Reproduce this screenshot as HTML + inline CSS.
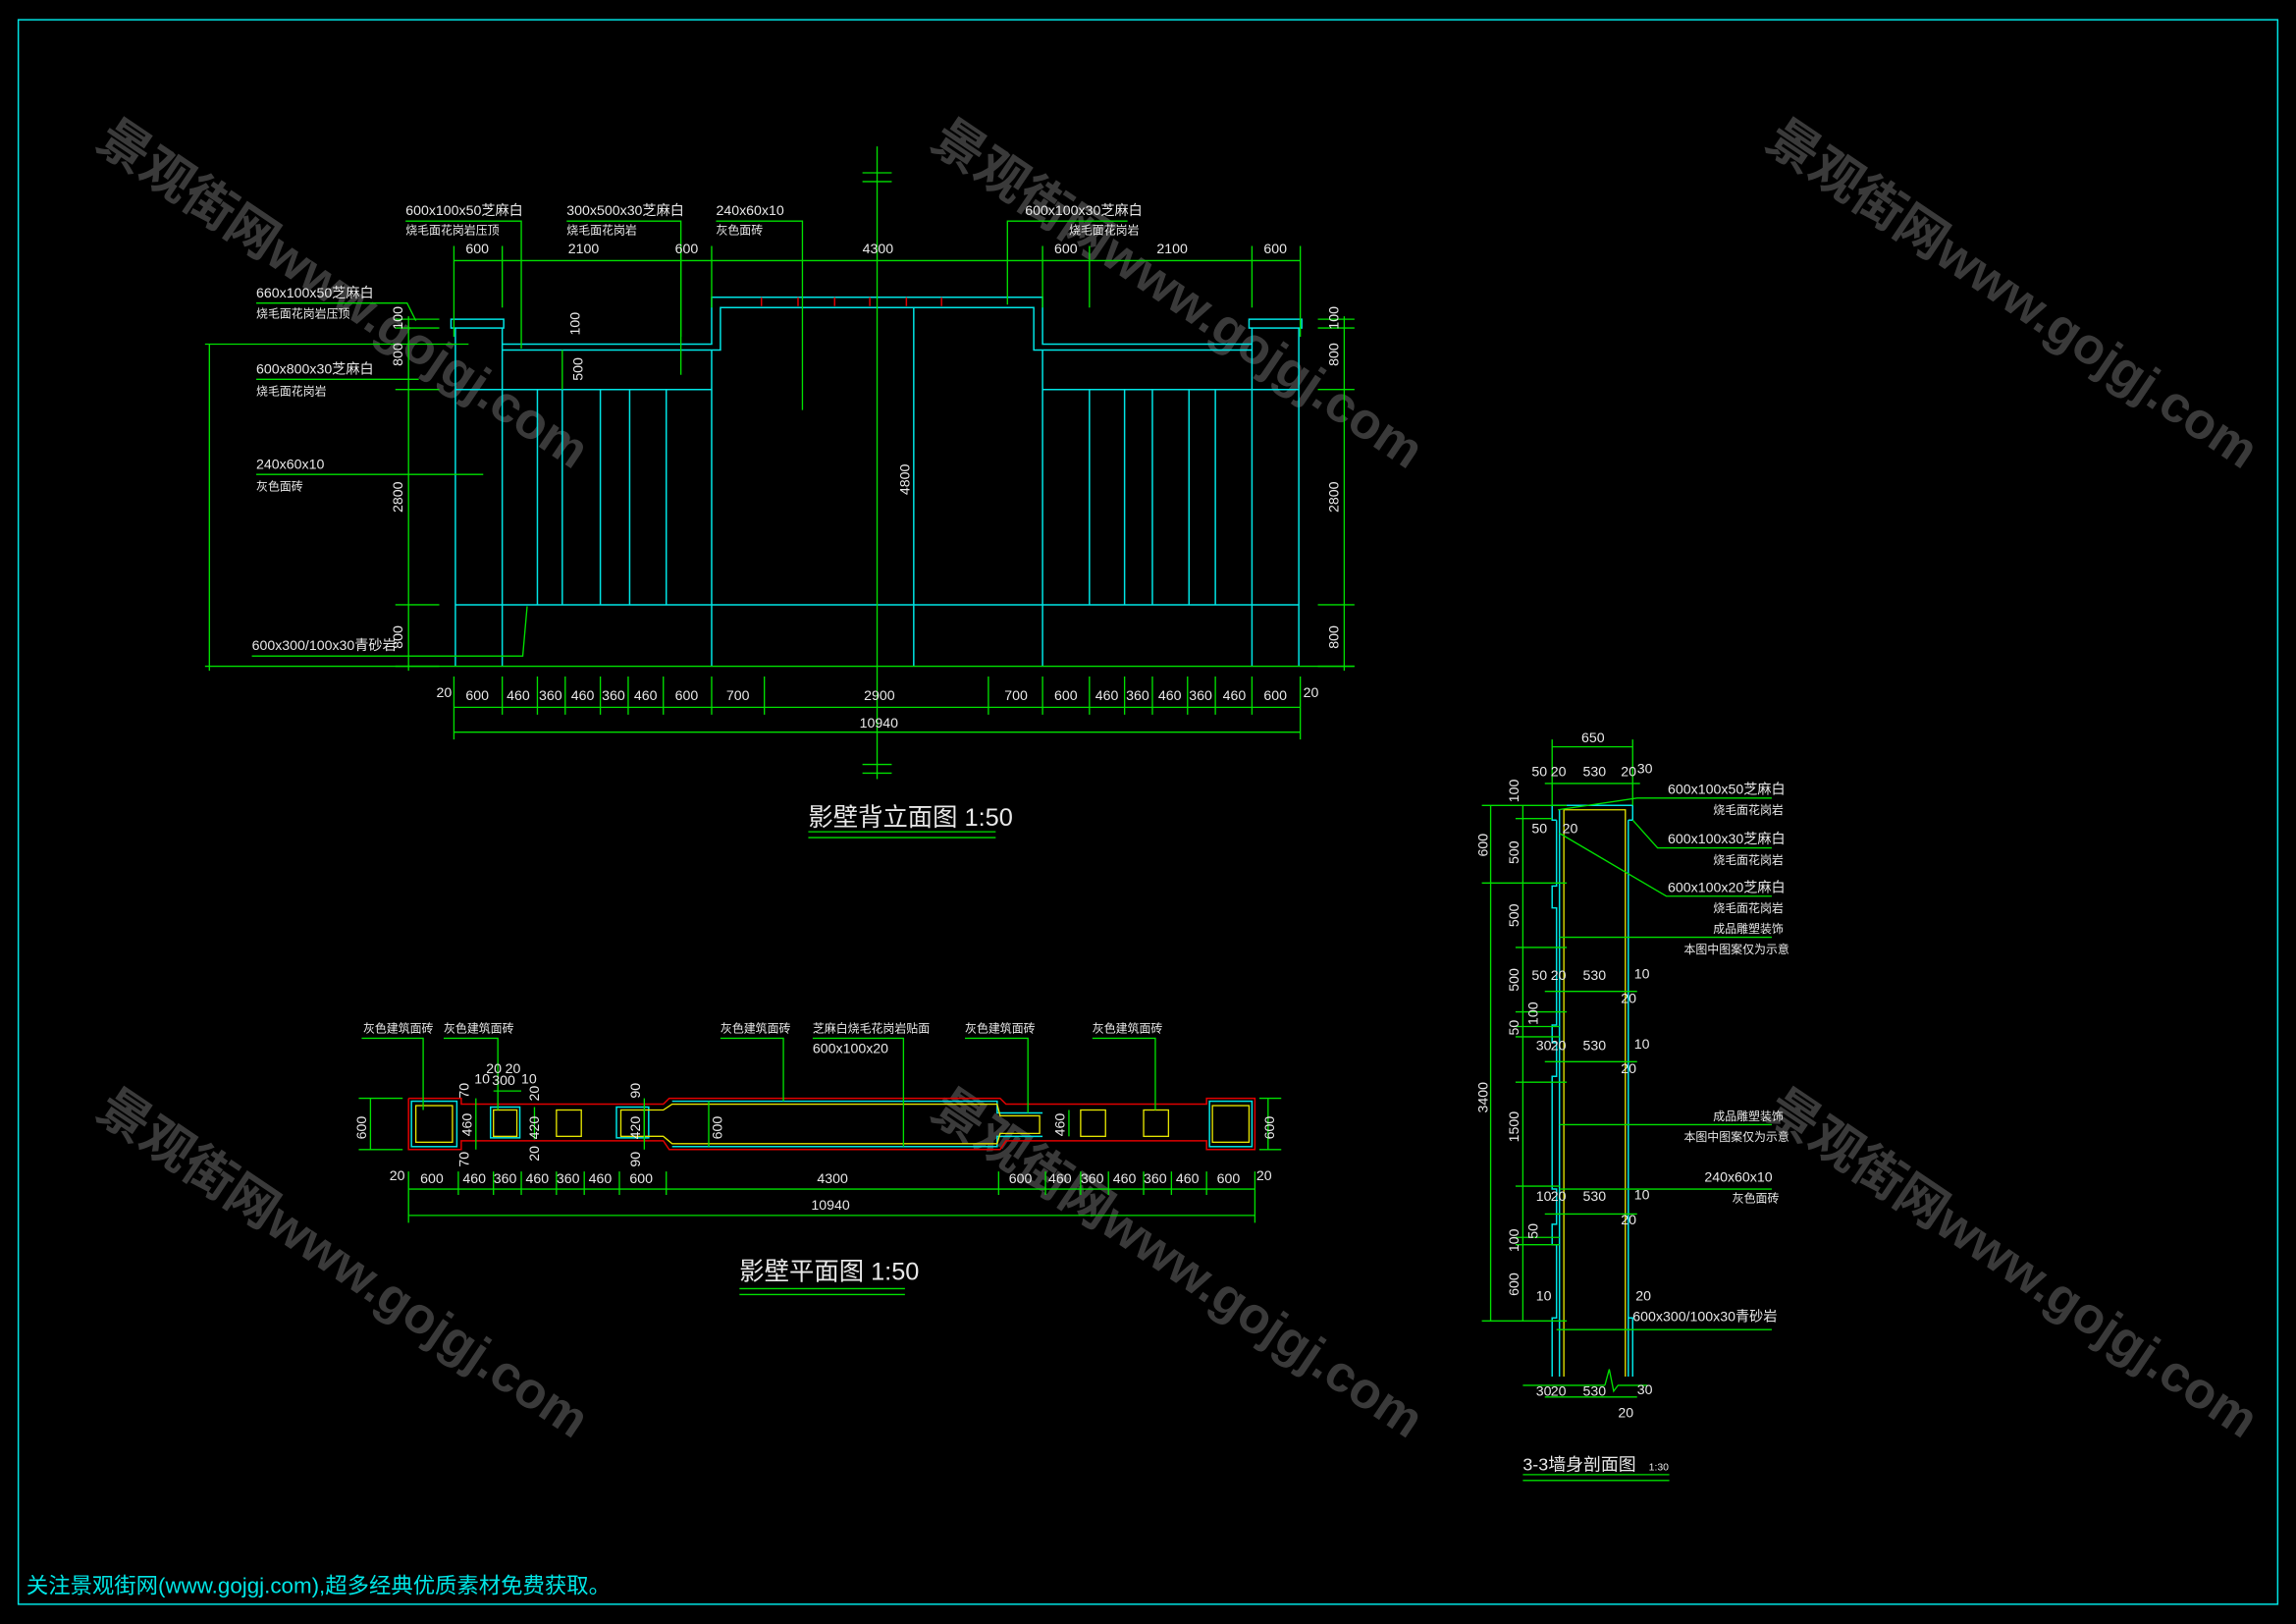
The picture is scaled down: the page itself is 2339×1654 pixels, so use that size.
<!DOCTYPE html>
<html><head><meta charset="utf-8"><style>
html,body{margin:0;padding:0;background:#000;}
svg{display:block;}
text{font-family:"Liberation Sans","Noto Sans CJK SC",sans-serif;}
.g{stroke:#00e000;stroke-width:0.9;fill:none;}
.c{stroke:#00e5e5;stroke-width:1;fill:none;}
.y{stroke:#e5e500;stroke-width:0.9;fill:none;}
.r{stroke:#e00000;stroke-width:1;fill:none;}
.t{fill:#e8e8e8;font-size:9.5px;}
.s{fill:#e8e8e8;font-size:8px;}
.wm{fill:#3a3a3a;font-size:35px;font-weight:bold;}
</style></head><body>
<svg width="2339" height="1654" viewBox="0 0 1568 1109" preserveAspectRatio="none" xmlns="http://www.w3.org/2000/svg">
<rect x="0" y="0" width="1568" height="1109" fill="#000"/>
<g>
<text class="wm" transform="translate(64,100) rotate(34)">景观街网www.gojgj.com</text>
<text class="wm" transform="translate(634,100) rotate(34)">景观街网www.gojgj.com</text>
<text class="wm" transform="translate(1204,100) rotate(34)">景观街网www.gojgj.com</text>
<text class="wm" transform="translate(64,762) rotate(34)">景观街网www.gojgj.com</text>
<text class="wm" transform="translate(634,762) rotate(34)">景观街网www.gojgj.com</text>
<text class="wm" transform="translate(1204,762) rotate(34)">景观街网www.gojgj.com</text>
</g>
<rect x="12.5" y="13.5" width="1543" height="1082" class="c"/>

<!-- ===== ELEVATION ===== -->
<g class="c">
<rect x="308" y="218" width="36" height="6"/>
<line x1="311" y1="224" x2="311" y2="455"/><line x1="343" y1="224" x2="343" y2="455"/>
<rect x="853" y="218" width="36" height="6"/>
<line x1="855" y1="224" x2="855" y2="455"/><line x1="887" y1="224" x2="887" y2="455"/>
<polyline points="343,235 486,235 486,203 712,203 712,235 855,235"/>
<polyline points="343,239 492,239 492,210 706,210 706,239 855,239"/>
<line x1="311" y1="266" x2="486" y2="266"/><line x1="712" y1="266" x2="887" y2="266"/>
<line x1="311" y1="413" x2="887" y2="413"/>
<line x1="486" y1="239" x2="486" y2="455"/><line x1="712" y1="239" x2="712" y2="455"/>
<line x1="624" y1="210" x2="624" y2="455"/>
<line x1="367" y1="266" x2="367" y2="413"/><line x1="384" y1="266" x2="384" y2="413"/>
<line x1="410" y1="266" x2="410" y2="413"/><line x1="430" y1="266" x2="430" y2="413"/>
<line x1="455" y1="266" x2="455" y2="413"/>
<line x1="744" y1="266" x2="744" y2="413"/><line x1="768" y1="266" x2="768" y2="413"/>
<line x1="787" y1="266" x2="787" y2="413"/><line x1="812" y1="266" x2="812" y2="413"/>
<line x1="830" y1="266" x2="830" y2="413"/>
</g>
<g class="r"><line x1="520" y1="203" x2="520" y2="209"/><line x1="545" y1="203" x2="545" y2="209"/><line x1="570" y1="203" x2="570" y2="209"/><line x1="594" y1="203" x2="594" y2="209"/><line x1="619" y1="203" x2="619" y2="209"/><line x1="643" y1="203" x2="643" y2="209"/></g>
<g class="g">
<line x1="599" y1="100" x2="599" y2="532"/>
<line x1="589" y1="118" x2="609" y2="118"/><line x1="589" y1="124" x2="609" y2="124"/>
<line x1="589" y1="522" x2="609" y2="522"/><line x1="589" y1="528" x2="609" y2="528"/>
<line x1="140" y1="455" x2="925" y2="455"/>
<line x1="143" y1="235" x2="143" y2="458"/><line x1="140" y1="235" x2="320" y2="235"/>
<line x1="310" y1="178" x2="888" y2="178"/>
<path d="M310 168V230M343 168V210M465 168V230M486 168V210M712 168V210M744 168V210M855 168V210M888 168V230"/>
<line x1="279" y1="216" x2="279" y2="458"/>
<path d="M270 218H300M270 224H300M270 266H300M270 413H300M270 455H300"/>
<line x1="918" y1="216" x2="918" y2="458"/>
<path d="M900 218H925M900 224H925M900 266H925M900 413H925M900 455H925"/>
<line x1="384" y1="239" x2="384" y2="266"/>
<line x1="310" y1="483" x2="888" y2="483"/>
<path d="M310 462V505M343 462V488M367 462V488M386 462V488M410 462V488M429 462V488M453 462V488M486 462V488M522 462V488M675 462V488M712 462V488M744 462V488M768 462V488M787 462V488M811 462V488M830 462V488M855 462V488M888 462V505"/>
<line x1="310" y1="500" x2="888" y2="500"/>
<polyline points="277,151 356,151 356,238"/>
<polyline points="387,151 465,151 465,256"/>
<polyline points="489,151 548,151 548,280"/>
<polyline points="770,151 688,151 688,208"/>
<polyline points="175,207 278,207 284,219"/>
<polyline points="175,259 286,259"/>
<polyline points="175,324 330,324"/>
<polyline points="172,448 357,448 360,414"/>
<line x1="552" y1="568" x2="680" y2="568"/><line x1="552" y1="572" x2="680" y2="572"/>
</g>
<g class="t">
<text x="318" y="173">600</text><text x="388" y="173">2100</text><text x="461" y="173">600</text>
<text x="589" y="173">4300</text><text x="720" y="173">600</text><text x="790" y="173">2100</text><text x="863" y="173">600</text>
<text x="298" y="476">20</text><text x="318" y="478">600</text><text x="346" y="478">460</text><text x="368" y="478">360</text>
<text x="390" y="478">460</text><text x="411" y="478">360</text><text x="433" y="478">460</text><text x="461" y="478">600</text>
<text x="496" y="478">700</text><text x="590" y="478">2900</text><text x="686" y="478">700</text><text x="720" y="478">600</text>
<text x="748" y="478">460</text><text x="769" y="478">360</text><text x="791" y="478">460</text><text x="812" y="478">360</text>
<text x="835" y="478">460</text><text x="863" y="478">600</text><text x="890" y="476">20</text>
<text x="587" y="497">10940</text>
<text transform="translate(275,225) rotate(-90)">100</text>
<text transform="translate(275,250) rotate(-90)">800</text>
<text transform="translate(275,350) rotate(-90)">2800</text>
<text transform="translate(275,443) rotate(-90)">800</text>
<text transform="translate(914,225) rotate(-90)">100</text>
<text transform="translate(914,250) rotate(-90)">800</text>
<text transform="translate(914,350) rotate(-90)">2800</text>
<text transform="translate(914,443) rotate(-90)">800</text>
<text transform="translate(396,229) rotate(-90)">100</text>
<text transform="translate(398,260) rotate(-90)">500</text>
<text transform="translate(621,338) rotate(-90)">4800</text>
<text x="277" y="147">600x100x50芝麻白</text><text x="387" y="147">300x500x30芝麻白</text>
<text x="489" y="147">240x60x10</text><text x="700" y="147">600x100x30芝麻白</text>
<text x="175" y="203">660x100x50芝麻白</text><text x="175" y="255">600x800x30芝麻白</text>
<text x="175" y="320">240x60x10</text><text x="172" y="444">600x300/100x30青砂岩</text>
</g>
<g class="s">
<text x="277" y="160">烧毛面花岗岩压顶</text><text x="387" y="160">烧毛面花岗岩</text><text x="489" y="160">灰色面砖</text>
<text x="730" y="160">烧毛面花岗岩</text><text x="175" y="217">烧毛面花岗岩压顶</text><text x="175" y="270">烧毛面花岗岩</text>
<text x="175" y="335">灰色面砖</text>
</g>
<text x="552" y="564" fill="#e8e8e8" font-size="17">影壁背立面图 1:50</text>

<!-- ===== PLAN ===== -->
<g class="r">
<polyline points="279,750 315,750 315,754 453,754 457,750 683,750 687,754 824,754 824,750 857,750 857,785 824,785 824,779 687,779 683,785 457,785 453,779 315,779 315,785 279,785 279,750"/>
</g>
<g class="c">
<rect x="281" y="752" width="31" height="31"/><rect x="826" y="752" width="29" height="31"/>
<rect x="335" y="756" width="20" height="21"/><rect x="421" y="756" width="22" height="21"/>
<polyline points="459,752 681,752 681,760 712,760"/>
<polyline points="459,783 681,783 681,776 712,776"/>
</g>
<g class="y">
<rect x="284" y="755" width="25" height="25"/><rect x="828" y="755" width="25" height="25"/>
<rect x="337" y="758" width="16" height="18"/><rect x="380" y="758" width="17" height="18"/>
<rect x="424" y="758" width="16" height="18"/>
<rect x="738" y="758" width="17" height="18"/><rect x="781" y="758" width="17" height="18"/>
<polyline points="440,758 453,758 459,754 681,754 683,762 710,762 710,774 683,774 681,781 459,781 453,776 440,776"/>
</g>
<g class="g">
<line x1="279" y1="812" x2="857" y2="812"/>
<path d="M279 800V835M313 800V816M337 800V816M356 800V816M380 800V816M399 800V816M423 800V816M455 800V816M682 800V816M714 800V816M738 800V816M757 800V816M781 800V816M800 800V816M824 800V816M857 800V835"/>
<line x1="279" y1="830" x2="857" y2="830"/>
<line x1="253" y1="750" x2="253" y2="785"/><path d="M245 750H275M245 785H275"/>
<line x1="866" y1="750" x2="866" y2="785"/><path d="M860 750H875M860 785H875"/>
<line x1="325" y1="750" x2="325" y2="785"/>
<line x1="365" y1="756" x2="365" y2="778"/>
<line x1="440" y1="750" x2="440" y2="785"/>
<line x1="484" y1="752" x2="484" y2="783"/>
<line x1="730" y1="758" x2="730" y2="776"/>
<line x1="337" y1="745" x2="356" y2="745"/>
<polyline points="247,709 289,709 289,758"/>
<polyline points="303,709 340,709 340,758"/>
<polyline points="492,709 535,709 535,752"/>
<polyline points="555,709 617,709 617,783"/>
<polyline points="659,709 702,709 702,760"/>
<polyline points="746,709 789,709 789,758"/>
<line x1="505" y1="880" x2="618" y2="880"/><line x1="505" y1="884" x2="618" y2="884"/>
</g>
<g class="t">
<text transform="translate(250,778) rotate(-90)">600</text>
<text transform="translate(870,778) rotate(-90)">600</text>
<text transform="translate(322,776) rotate(-90)">460</text>
<text transform="translate(368,778) rotate(-90)">420</text>
<text transform="translate(437,778) rotate(-90)">420</text>
<text transform="translate(493,778) rotate(-90)">600</text>
<text transform="translate(727,776) rotate(-90)">460</text>
<text transform="translate(320,750) rotate(-90)">70</text>
<text transform="translate(320,797) rotate(-90)">70</text>
<text transform="translate(368,752) rotate(-90)">20</text>
<text transform="translate(368,793) rotate(-90)">20</text>
<text transform="translate(437,750) rotate(-90)">90</text>
<text transform="translate(437,797) rotate(-90)">90</text>
<text x="332" y="733">20</text><text x="345" y="733">20</text>
<text x="324" y="740">10</text><text x="336" y="741">300</text><text x="356" y="740">10</text>
<text x="266" y="806">20</text><text x="287" y="808">600</text><text x="316" y="808">460</text><text x="337" y="808">360</text>
<text x="359" y="808">460</text><text x="380" y="808">360</text><text x="402" y="808">460</text><text x="430" y="808">600</text>
<text x="558" y="808">4300</text><text x="689" y="808">600</text><text x="716" y="808">460</text><text x="738" y="808">360</text>
<text x="760" y="808">460</text><text x="781" y="808">360</text><text x="803" y="808">460</text><text x="831" y="808">600</text>
<text x="858" y="806">20</text><text x="554" y="826">10940</text>
<text x="555" y="719">600x100x20</text>
</g>
<g class="s">
<text x="248" y="705">灰色建筑面砖</text><text x="303" y="705">灰色建筑面砖</text><text x="492" y="705">灰色建筑面砖</text>
<text x="555" y="705">芝麻白烧毛花岗岩贴面</text><text x="659" y="705">灰色建筑面砖</text><text x="746" y="705">灰色建筑面砖</text>
</g>
<text x="505" y="874" fill="#e8e8e8" font-size="17">影壁平面图 1:50</text>

<!-- ===== SECTION ===== -->
<g class="c">
<polyline points="1063,560 1060,560 1060,550 1115,550 1115,560 1112,560"/>
<polyline points="1063,560 1063,605 1060,605 1060,620 1063,620 1063,700 1060,700 1060,712 1063,712 1063,735 1060,735 1060,812 1063,812 1063,836 1060,836 1060,850 1063,850 1063,900 1060,900 1060,940"/>
<line x1="1065" y1="553" x2="1065" y2="940"/>
<line x1="1112" y1="560" x2="1112" y2="940"/>
<polyline points="1112,900 1115,900 1115,940"/>
</g>
<g class="y"><polyline points="1068,940 1068,553 1110,553 1110,940"/></g>
<g class="g">
<line x1="1018" y1="550" x2="1018" y2="902"/>
<line x1="1040" y1="550" x2="1040" y2="902"/>
<path d="M1012 550H1070M1012 603H1070M1035 559H1060M1035 647H1070M1035 691H1070M1035 701H1065M1035 708H1065M1035 739H1070M1035 810H1065M1035 845H1065M1035 850H1065M1012 902H1070"/>
<line x1="1060" y1="510" x2="1115" y2="510"/><path d="M1060 505V550M1115 505V550"/>
<line x1="1055" y1="535" x2="1120" y2="535"/>
<line x1="1055" y1="677" x2="1118" y2="677"/>
<line x1="1055" y1="725" x2="1118" y2="725"/>
<line x1="1055" y1="829" x2="1118" y2="829"/>
<line x1="1055" y1="954" x2="1118" y2="954"/>
<line x1="1040" y1="946" x2="1096" y2="946"/><polyline points="1096,946 1099,935 1102,950 1105,946 1125,946"/>
<polyline points="1064,553 1118,545 1210,545"/>
<polyline points="1115,560 1132,579 1210,579"/>
<polyline points="1065,569 1138,612 1210,612"/>
<line x1="1065" y1="640" x2="1210" y2="640"/>
<line x1="1065" y1="768" x2="1210" y2="768"/>
<line x1="1065" y1="812" x2="1210" y2="812"/>
<line x1="1063" y1="908" x2="1210" y2="908"/>
<line x1="1040" y1="1007" x2="1140" y2="1007"/><line x1="1040" y1="1011" x2="1140" y2="1011"/>
</g>
<g class="t">
<text x="1080" y="507">650</text>
<text x="1046" y="530">50</text><text x="1059" y="530">20</text><text x="1081" y="530">530</text><text x="1107" y="530">20</text><text x="1118" y="528">30</text>
<text x="1046" y="569">50</text><text x="1067" y="569">20</text>
<text x="1046" y="669">50</text><text x="1059" y="669">20</text><text x="1081" y="669">530</text><text x="1116" y="668">10</text><text x="1107" y="685">20</text>
<text x="1049" y="717">30</text><text x="1059" y="717">20</text><text x="1081" y="717">530</text><text x="1116" y="716">10</text><text x="1107" y="733">20</text>
<text x="1049" y="820">10</text><text x="1059" y="820">20</text><text x="1081" y="820">530</text><text x="1116" y="819">10</text><text x="1107" y="836">20</text>
<text x="1049" y="888">10</text><text x="1117" y="888">20</text>
<text x="1049" y="953">30</text><text x="1059" y="953">20</text><text x="1081" y="953">530</text><text x="1118" y="952">30</text><text x="1105" y="968">20</text>
<text x="1139" y="542">600x100x50芝麻白</text><text x="1139" y="576">600x100x30芝麻白</text><text x="1139" y="609">600x100x20芝麻白</text>
<text x="1164" y="807">240x60x10</text><text x="1115" y="902">600x300/100x30青砂岩</text>
<text transform="translate(1016,585) rotate(-90)">600</text>
<text transform="translate(1016,760) rotate(-90)">3400</text>
<text transform="translate(1037,548) rotate(-90)">100</text>
<text transform="translate(1037,590) rotate(-90)">500</text>
<text transform="translate(1037,633) rotate(-90)">500</text>
<text transform="translate(1037,677) rotate(-90)">500</text>
<text transform="translate(1037,707) rotate(-90)">50</text>
<text transform="translate(1050,700) rotate(-90)">100</text>
<text transform="translate(1037,780) rotate(-90)">1500</text>
<text transform="translate(1037,855) rotate(-90)">100</text>
<text transform="translate(1050,846) rotate(-90)">50</text>
<text transform="translate(1037,885) rotate(-90)">600</text>
</g>
<g class="s">
<text x="1170" y="556">烧毛面花岗岩</text><text x="1170" y="590">烧毛面花岗岩</text><text x="1170" y="623">烧毛面花岗岩</text>
<text x="1170" y="637">成品雕塑装饰</text><text x="1150" y="651">本图中图案仅为示意</text>
<text x="1170" y="765">成品雕塑装饰</text><text x="1150" y="779">本图中图案仅为示意</text>
<text x="1183" y="821">灰色面砖</text>
</g>
<text x="1040" y="1004" fill="#e8e8e8" font-size="12">3-3墙身剖面图</text>
<text x="1126" y="1004" fill="#e8e8e8" font-size="7">1:30</text>

<text x="18" y="1088" fill="#00e5e5" font-size="15" font-family="Liberation Mono, Noto Sans CJK SC, monospace">关注景观街网(www.gojgj.com),超多经典优质素材免费获取。</text>
</svg>
</body></html>
